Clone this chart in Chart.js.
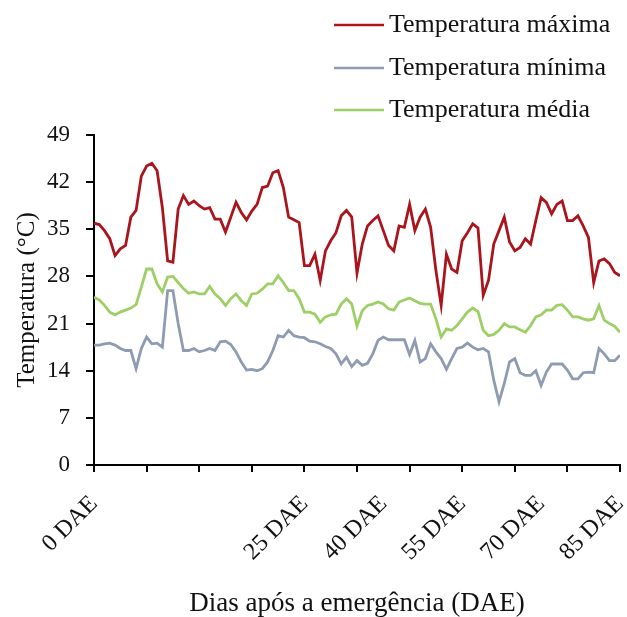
<!DOCTYPE html>
<html>
<head>
<meta charset="utf-8">
<script src="https://cdn.jsdelivr.net/npm/chart.js@4.4.1/dist/chart.umd.min.js"></script>
<style>
    body { margin: 0; background: #fff; }
    #wrap { width: 627px; height: 617px; }
</style>
</head>
<body>
<div id="wrap"><canvas id="tempChart" width="627" height="617"></canvas></div>
<script>
// Temperature series (daily)
const days = Array.from({ length: 101 }, (_, i) => i);

const tempMax = [
    35.9, 35.7, 34.8, 33.6, 31.1, 32.1, 32.6, 36.8, 37.8, 42.9,
    44.4, 44.8, 43.7, 38.2, 30.3, 30.1, 38.0, 40.0, 38.7, 39.2,
    38.5, 38.0, 38.2, 36.5, 36.5, 34.6, 36.8, 39.0, 37.5, 36.4,
    37.7, 38.7, 41.2, 41.4, 43.4, 43.7, 41.2, 36.8, 36.4, 36.0,
    29.6, 29.6, 31.3, 27.4, 31.8, 33.3, 34.5, 37.0, 37.8, 36.8,
    28.5, 32.8, 35.5, 36.3, 37.0, 34.8, 32.6, 31.8, 35.5, 35.3,
    38.7, 34.8, 36.8, 38.0, 35.3, 28.9, 23.7, 31.3, 29.1, 28.6,
    33.3, 34.5, 35.8, 35.2, 25.2, 27.4, 32.8, 34.8, 36.8, 33.1,
    31.8, 32.3, 33.6, 32.8, 36.3, 39.7, 39.0, 37.3, 38.7, 39.2,
    36.3, 36.3, 37.0, 35.5, 33.8, 27.1, 30.3, 30.6, 29.9, 28.6,
    28.1
];

const tempMin = [
    17.8, 17.8, 18.0, 18.1, 17.8, 17.3, 17.0, 17.0, 14.3, 17.3,
    19.0, 18.0, 18.1, 17.5, 25.9, 25.9, 21.0, 17.0, 17.0, 17.3,
    16.8, 17.0, 17.3, 17.0, 18.3, 18.4, 17.9, 16.8, 15.3, 14.1,
    14.2, 14.0, 14.3, 15.3, 17.0, 19.2, 19.0, 20.0, 19.2, 19.0,
    18.9, 18.4, 18.3, 18.0, 17.6, 17.3, 16.5, 15.0, 16.0, 14.6,
    15.5, 14.8, 15.1, 16.5, 18.5, 19.0, 18.6, 18.6, 18.6, 18.6,
    16.4, 18.5, 15.3, 15.8, 18.0, 16.8, 15.8, 14.2, 15.8, 17.3,
    17.5, 18.1, 17.5, 17.1, 17.3, 16.8, 12.6, 9.4, 12.1, 15.3,
    15.8, 13.7, 13.3, 13.3, 14.0, 11.8, 13.8, 15.0, 15.0, 15.0,
    14.1, 12.8, 12.8, 13.7, 13.8, 13.7, 17.3, 16.5, 15.5, 15.5,
    16.3
];

const tempMean = [
    24.9, 24.5, 23.7, 22.7, 22.3, 22.7, 23.0, 23.3, 23.8, 26.4,
    29.1, 29.1, 26.9, 25.7, 27.9, 28.0, 27.1, 26.2, 25.5, 25.7,
    25.4, 25.4, 26.5, 25.4, 24.7, 23.7, 24.7, 25.4, 24.4, 23.7,
    25.4, 25.5, 26.1, 26.9, 26.9, 28.1, 27.1, 25.9, 25.9, 24.7,
    22.7, 22.7, 22.4, 21.2, 22.0, 22.3, 22.4, 23.9, 24.7, 23.9,
    20.6, 22.9, 23.7, 23.9, 24.2, 23.9, 23.2, 23.0, 24.2, 24.5,
    24.8, 24.4, 24.0, 23.9, 23.9, 21.7, 19.0, 20.2, 20.0, 20.7,
    21.7, 22.7, 23.3, 22.8, 20.0, 19.2, 19.4, 20.0, 21.0, 20.5,
    20.5, 20.1, 19.7, 20.7, 22.0, 22.3, 23.0, 23.0, 23.7, 23.8,
    23.0, 22.0, 22.0, 21.7, 21.5, 21.7, 23.7, 21.5, 21.0, 20.6,
    19.7
];

// X tick labels and where they sit (day index)
const dayTickPositions = [0, 40, 55, 70, 85, 100];
const dayTickLabels = ['0 DAE', '25 DAE', '40 DAE', '55 DAE', '70 DAE', '85 DAE'];

// Y ticks
const yTicks = [0, 7, 14, 21, 28, 35, 42, 49];

const seriesNames = ['Temperatura máxima', 'Temperatura mínima', 'Temperatura média'];
const seriesColors = ['#aa141c', '#8f9bb2', '#9dcf66'];

const serif = "'Liberation Serif', 'Times New Roman', serif";

// Legend drawn as a vertical list in the top-right corner
const stackedLegend = {
    id: 'stackedLegend',
    afterDraw(chart, args, opts) {
        const ctx = chart.ctx;
        ctx.save();
        ctx.font = opts.fontSize + 'px ' + serif;
        ctx.textBaseline = 'middle';
        ctx.textAlign = 'left';
        chart.data.datasets.forEach((ds, i) => {
            const y = opts.rows[i];
            ctx.strokeStyle = ds.borderColor;
            ctx.lineWidth = 2.5;
            ctx.beginPath();
            ctx.moveTo(opts.x, y);
            ctx.lineTo(opts.x + opts.lineLen, y);
            ctx.stroke();
            ctx.fillStyle = '#111';
            ctx.fillText(ds.label, opts.x + opts.lineLen + 5, y);
        });
        ctx.restore();
    }
};

const ctx = document.getElementById('tempChart').getContext('2d');
const tempChart = new Chart(ctx, {
    type: 'line',
    data: {
        labels: days,
        datasets: [
            { label: seriesNames[0], data: tempMax, borderColor: seriesColors[0] },
            { label: seriesNames[1], data: tempMin, borderColor: seriesColors[1] },
            { label: seriesNames[2], data: tempMean, borderColor: seriesColors[2] }
        ]
    },
    options: {
        responsive: false,
        animation: false,
        layout: { padding: { top: 135, right: 7, left: 0, bottom: 0 } },
        elements: {
            line: { borderWidth: 2.8, tension: 0 },
            point: { radius: 0 }
        },
        plugins: {
            legend: { display: false },
            tooltip: { enabled: false },
            stackedLegend: { x: 334, lineLen: 50, rows: [25, 68, 110], fontSize: 26 }
        },
        scales: {
            x: {
                type: 'linear',
                min: 0,
                max: 100,
                afterBuildTicks(scale) {
                    const vals = [0, 10, 20, 30, 40, 50, 60, 70, 80, 90, 100];
                    dayTickPositions.forEach(v => { if (!vals.includes(v)) vals.push(v); });
                    vals.sort((a, b) => a - b);
                    scale.ticks = vals.map(v => ({ value: v }));
                },
                afterFit(scale) {
                    scale.height = 152;
                    scale.paddingLeft = 0;
                    scale.paddingRight = 0;
                },
                ticks: {
                    autoSkip: false,
                    maxRotation: 45,
                    minRotation: 45,
                    padding: 18,
                    color: '#111',
                    font: { family: serif, size: 24 },
                    callback: function (value) {
                        const idx = dayTickPositions.indexOf(value);
                        return idx >= 0 ? dayTickLabels[idx] : '';
                    }
                },
                grid: {
                    drawOnChartArea: false,
                    tickLength: 7,
                    lineWidth: 2,
                    tickColor: c => (c.tick && c.tick.value % 10 === 0) ? '#000' : 'rgba(0,0,0,0)'
                },
                border: { display: true, color: '#000', width: 2 },
                title: {
                    display: true,
                    text: 'Dias após a emergência (DAE)',
                    color: '#111',
                    font: { family: serif, size: 27, lineHeight: 1.0 },
                    padding: { top: 0, bottom: 0 }
                }
            },
            y: {
                min: 0,
                max: 49,
                afterBuildTicks(scale) {
                    scale.ticks = yTicks.map(v => ({ value: v }));
                },
                afterFit(scale) { scale.width = 94; },
                ticks: {
                    padding: 16,
                    color: '#111',
                    font: { family: serif, size: 23 }
                },
                grid: {
                    drawOnChartArea: false,
                    tickLength: 8,
                    lineWidth: 2,
                    color: '#000'
                },
                border: { display: true, color: '#000', width: 2 },
                title: {
                    display: true,
                    text: 'Temperatura (°C)',
                    color: '#111',
                    font: { family: serif, size: 25 },
                    padding: { top: 12, bottom: 0 }
                }
            }
        }
    },
    plugins: [stackedLegend]
});
</script>
</body>
</html>
